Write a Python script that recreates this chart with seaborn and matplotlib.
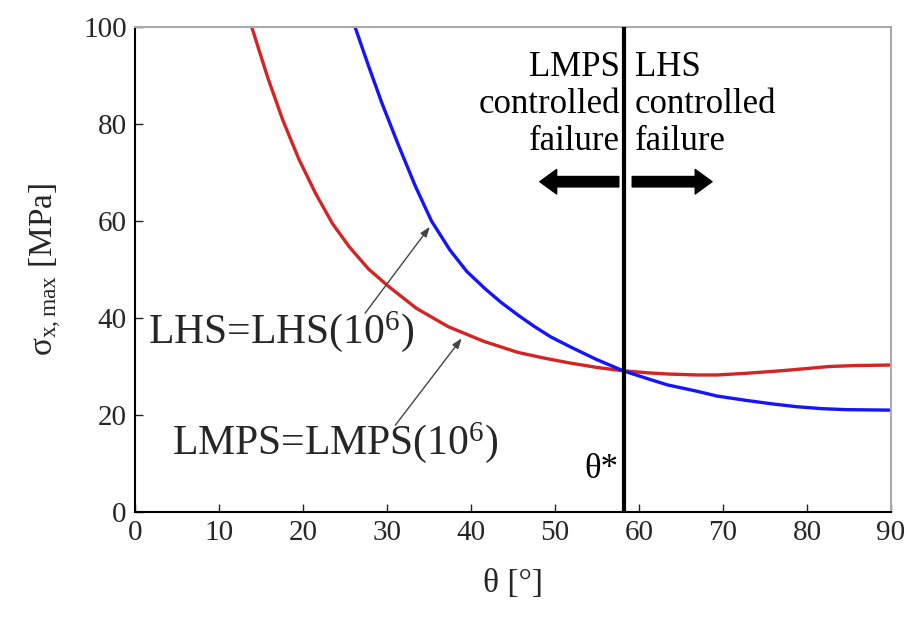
import matplotlib
matplotlib.use("Agg")
import matplotlib.pyplot as plt
import seaborn as sns
import pandas as pd

# ---- data ----
lmps_theta = [13.9, 15.8, 17.6, 19.5, 21.5, 23.5, 25.5, 27.8, 30.2, 33.5, 37.3, 41.5, 45.6,
              48.5, 51.5, 55.0, 58.15, 61.0, 63.4, 66.9, 69.3, 72.8, 76.8, 79.5, 82.7, 86.0, 90.0]
lmps_sigma = [100.0, 89.6, 80.8, 72.8, 65.7, 59.5, 54.7, 50.1, 46.5, 42.0, 38.2, 35.2, 32.9,
              31.8, 30.8, 29.8, 29.1, 28.7, 28.45, 28.25, 28.25, 28.6, 29.1, 29.5, 30.0, 30.2, 30.3]
lhs_theta = [26.2, 27.8, 29.4, 31.4, 33.4, 35.3, 37.5, 39.5, 41.7, 43.6, 45.6, 47.5, 49.5,
             52.0, 55.0, 58.15, 61.0, 63.4, 66.9, 69.3, 72.8, 75.8, 78.8, 81.8, 84.7, 90.0]
lhs_sigma = [100.0, 92.0, 84.3, 75.5, 67.1, 60.0, 54.0, 49.6, 46.0, 43.2, 40.6, 38.3, 36.1,
             33.9, 31.4, 29.1, 27.5, 26.2, 24.9, 23.9, 23.0, 22.3, 21.7, 21.3, 21.1, 21.0]
theta_star = 58.2
x_ticks = [0, 10, 20, 30, 40, 50, 60, 70, 80, 90]
y_ticks = [0, 20, 40, 60, 80, 100]

sns.set_theme(style="ticks")
plt.rcParams["font.family"] = ["Liberation Serif", "DejaVu Serif"]
plt.rcParams["mathtext.fontset"] = "custom"
plt.rcParams["mathtext.rm"] = "Liberation Serif"
plt.rcParams["mathtext.it"] = "Liberation Serif:italic"
plt.rcParams["mathtext.bf"] = "Liberation Serif:bold"

fig = plt.figure(figsize=(9.07, 6.19), dpi=100)
ax = fig.add_axes([0.1488, 0.1729, 0.8335, 0.7835])

df_lmps = pd.DataFrame({"theta": lmps_theta, "sigma": lmps_sigma})
df_lhs = pd.DataFrame({"theta": lhs_theta, "sigma": lhs_sigma})
sns.lineplot(data=df_lmps, x="theta", y="sigma", ax=ax, color="#d42424", lw=2.4, sort=False)
sns.lineplot(data=df_lhs, x="theta", y="sigma", ax=ax, color="#1414ff", lw=2.4, sort=False)
ax.axvline(theta_star, color="black", lw=3.0, zorder=5)

ax.set_xlim(0, 90)
ax.set_ylim(0, 100)
ax.set_xticks(x_ticks)
ax.set_yticks(y_ticks)
ax.set_xticklabels([str(v) for v in x_ticks], fontsize=21)
ax.set_yticklabels([str(v) for v in y_ticks], fontsize=21)
ax.tick_params(direction="in", length=6, width=1, top=False, right=False, pad=6)
ax.set_xlabel("θ [°]", fontsize=24, labelpad=16)
ax.set_ylabel(r"σ$_{\mathrm{x,max}}$ [MPa]", fontsize=24, labelpad=14)
for s in ["left", "bottom"]:
    ax.spines[s].set_color("black")
    ax.spines[s].set_linewidth(1.5)
for s in ["top", "right"]:
    ax.spines[s].set_color("#aaaaaa")
    ax.spines[s].set_linewidth(1.5)

# region texts
ax.text(57.7, 95.0, "LMPS\ncontrolled\nfailure", ha="right", va="top", fontsize=25,
        linespacing=1.15, color="black")
ax.text(59.5, 95.0, "LHS\ncontrolled\nfailure", ha="left", va="top", fontsize=25,
        linespacing=1.15, color="black")
ax.text(57.6, 8.7, "θ*", ha="right", va="center", fontsize=25, color="black")

# thick arrows
thick = dict(arrowstyle="simple,head_length=0.55,head_width=0.8,tail_width=0.34",
             color="black", mutation_scale=22, shrinkA=0, shrinkB=0)
ax.annotate("", xy=(48.2, 68.1), xytext=(57.6, 68.1), arrowprops=thick)
ax.annotate("", xy=(68.7, 68.1), xytext=(59.2, 68.1), arrowprops=thick)

# labels with thin arrows
thin = dict(arrowstyle="-|>,head_length=0.5,head_width=0.18", color="#444444", lw=1.0,
            shrinkA=0, shrinkB=0)
ax.text(1.5, 37.2, r"LHS=LHS(10$^{6}$)", ha="left", va="center", fontsize=30)
ax.annotate("", xy=(35.1, 58.8), xytext=(27.4, 41.0), arrowprops=thin)
ax.text(4.4, 14.3, r"LMPS=LMPS(10$^{6}$)", ha="left", va="center", fontsize=30)
ax.annotate("", xy=(38.9, 35.8), xytext=(31.0, 17.9), arrowprops=thin)

fig.savefig("out.png", dpi=100)
